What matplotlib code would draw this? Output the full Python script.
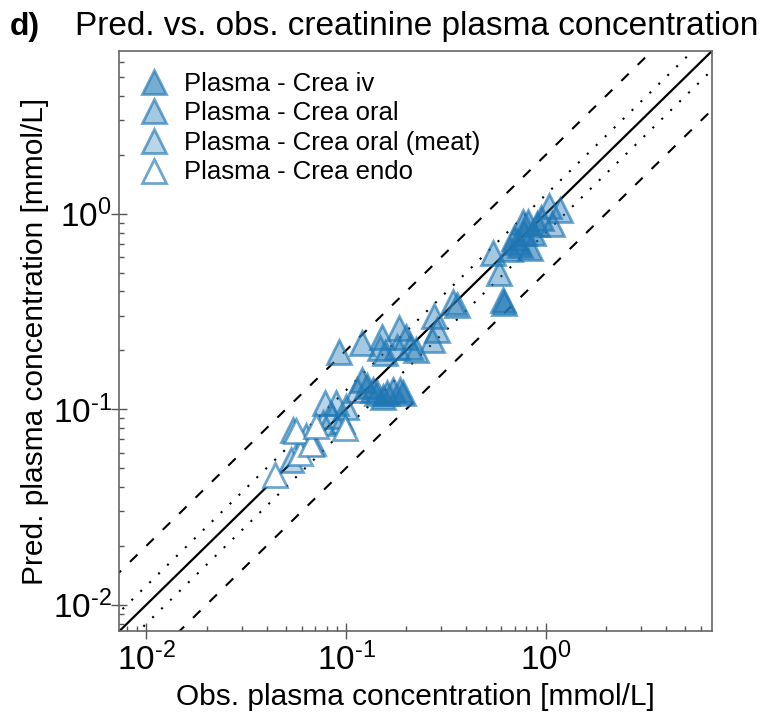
import matplotlib
matplotlib.use("Agg")
import matplotlib.pyplot as plt
from matplotlib.ticker import LogLocator, FuncFormatter, NullFormatter
import math

plt.rcParams['font.family'] = ['Liberation Sans', 'DejaVu Sans']
plt.rcParams['mathtext.default'] = 'regular'
plt.rcParams['mathtext.fontset'] = 'custom'
plt.rcParams['mathtext.rm'] = 'Liberation Sans'
plt.rcParams['axes.unicode_minus'] = False

# ------------------------------
# data (obs / pred in mmol/L)
# ------------------------------
obs_iv = [0.61, 0.62, 0.69, 0.74, 0.77, 0.81, 0.83, 0.90, 0.72, 0.78, 0.86, 0.95, 0.66,
          0.120, 0.127, 0.136, 0.142, 0.153, 0.160, 0.172, 0.186, 0.193]
pred_iv = [0.36, 0.35, 0.75, 0.69, 0.91, 0.91, 0.67, 0.89, 0.72, 0.80, 0.80, 0.95, 0.66,
           0.141, 0.131, 0.126, 0.121, 0.116, 0.121, 0.126, 0.126, 0.121]

obs_oral = [0.092, 0.120, 0.151, 0.185, 0.148, 0.156, 0.179, 0.200, 0.209, 0.225,
            0.274, 0.269, 0.284, 0.344, 0.358, 0.545, 0.580, 1.04, 1.18, 1.08]
pred_oral = [0.197, 0.218, 0.235, 0.260, 0.205, 0.194, 0.209, 0.235, 0.209, 0.201,
             0.300, 0.226, 0.255, 0.355, 0.341, 0.630, 0.500, 1.10, 1.04, 0.89]

obs_meat = [0.054, 0.063, 0.068, 0.0765, 0.095, 0.0846, 0.0895, 0.078, 0.100, 0.113, 0.053]
pred_meat = [0.0785, 0.0727, 0.0675, 0.0853, 0.0866, 0.092, 0.108, 0.108, 0.103, 0.126, 0.055]

obs_endo = [0.044, 0.0586, 0.056, 0.067, 0.071, 0.0987]
pred_endo = [0.046, 0.0597, 0.077, 0.066, 0.082, 0.080]

series = [
    ('Plasma - Crea iv', obs_iv, pred_iv, 0.6),
    ('Plasma - Crea oral', obs_oral, pred_oral, 0.4),
    ('Plasma - Crea oral (meat)', obs_meat, pred_meat, 0.3),
    ('Plasma - Crea endo', obs_endo, pred_endo, 0.0),
]

BLUE = (0.122, 0.467, 0.706)
LIM = (0.00733, 6.8)

fig = plt.figure(figsize=(7.62, 7.13), dpi=100)
ax = fig.add_axes([0.1568, 0.115, 0.7776, 0.8135])

# identity + fold lines
ref = [1e-3, 1e2]
ax.plot(ref, ref, color='black', lw=1.6, zorder=1)
for f in (1.25, 1 / 1.25):
    ax.plot(ref, [v * f for v in ref], color='black', lw=1.5, dashes=(1, 5), zorder=1)
for f in (2.0, 0.5):
    ax.plot(ref, [v * f for v in ref], color='black', lw=1.5, dashes=(5, 6), zorder=1)

for label, xs, ys, a in series:
    ax.plot(xs, ys, linestyle='none', marker='^', markersize=17.5, markeredgewidth=2,
            markerfacecolor=BLUE + (a,) if a > 0 else 'white',
            markeredgecolor=BLUE + (0.65,), label=label, zorder=3)

ax.set_xscale('log')
ax.set_yscale('log')
ax.set_xlim(*LIM)
ax.set_ylim(*LIM)


def pow10(v, pos):
    e = int(round(math.log10(v)))
    if e < 0:
        return r'$10^{\text{-}%d}$' % (-e)
    return r'$10^{%d}$' % e


for axis in (ax.xaxis, ax.yaxis):
    axis.set_major_locator(LogLocator(base=10, numticks=10))
    axis.set_major_formatter(FuncFormatter(pow10))
    axis.set_minor_locator(LogLocator(base=10, subs=range(2, 10), numticks=20))
    axis.set_minor_formatter(NullFormatter())

ax.tick_params(which='major', direction='inout', length=11, width=1, color='#555555',
               labelsize=24, pad=3)
ax.tick_params(axis='y', which='major', pad=0)
ax.tick_params(which='minor', direction='in', length=3.5, width=1, color='#555555')
for s in ax.spines.values():
    s.set_color('#666666')
    s.set_linewidth(1.2)

ax.set_xlabel('Obs. plasma concentration [mmol/L]', fontsize=21.5, labelpad=4)
ax.set_ylabel('Pred. plasma concentration [mmol/L]', fontsize=21.5, labelpad=3)

leg = ax.legend(loc='upper left', frameon=False, fontsize=18.5, handlelength=1.1,
                handletextpad=0.6, labelspacing=0.22, borderaxespad=0.4)

fig.text(10 / 762, 1 - 27 / 713, 'd)', fontsize=23, fontweight='bold', va='center', ha='left')
fig.text(75 / 762, 1 - 27 / 713, 'Pred. vs. obs. creatinine plasma concentration',
         fontsize=24, va='center', ha='left')

fig.savefig('out.png', dpi=100, facecolor='white')
